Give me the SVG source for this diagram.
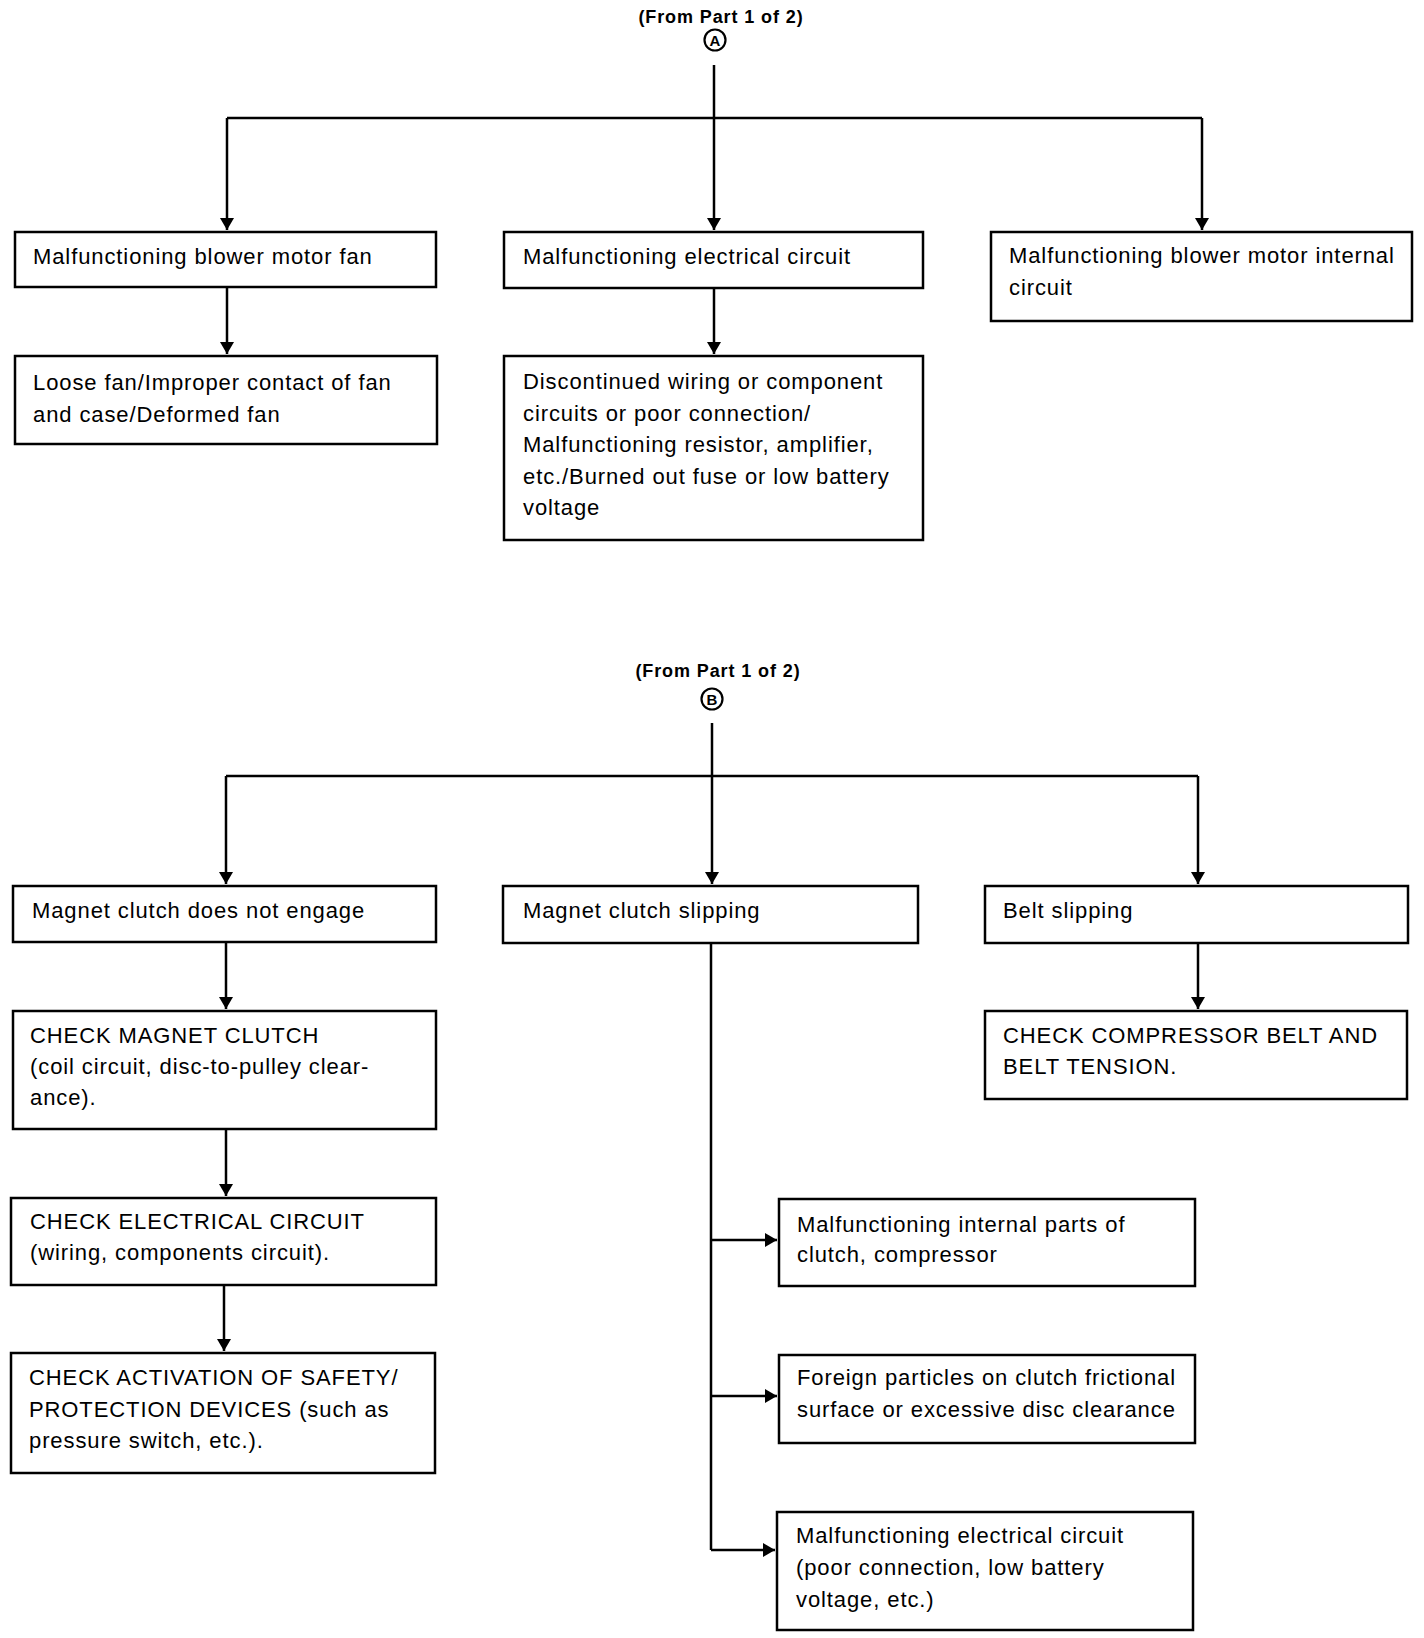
<svg xmlns="http://www.w3.org/2000/svg" width="1424" height="1638" viewBox="0 0 1424 1638">
<style>
.box{fill:#fff;stroke:#000;stroke-width:2.5}
.t{font-family:"Liberation Sans",Arial,sans-serif;font-size:22px;letter-spacing:0.9px;fill:#000}
.h{font-family:"Liberation Sans",Arial,sans-serif;font-size:18px;letter-spacing:0.9px;font-weight:bold;fill:#000}
.c{font-family:"Liberation Sans",Arial,sans-serif;font-size:15px;font-weight:bold;fill:#000}
.ln{fill:none;stroke:#000;stroke-width:2.5}
.ring{fill:none;stroke:#000;stroke-width:2.2}
</style>
<defs>
<marker id="ah" markerWidth="12" markerHeight="14" refX="12" refY="7" orient="auto" markerUnits="userSpaceOnUse" viewBox="0 0 12 14">
<path d="M0,0 L12,7 L0,14 Z" fill="#000"/>
</marker>
</defs>
<rect width="1424" height="1638" fill="#fff"/>

<g id="refA">
<text class="h" x="721" y="23" text-anchor="middle">(From Part 1 of 2)</text>
<circle class="ring" cx="715" cy="40" r="10.5"/>
<text class="c" x="715" y="45.5" text-anchor="middle">A</text>
</g>
<g id="refB">
<text class="h" x="718" y="677" text-anchor="middle">(From Part 1 of 2)</text>
<circle class="ring" cx="712" cy="699" r="10.5"/>
<text class="c" x="712" y="704.5" text-anchor="middle">B</text>
</g>

<g id="connectors">
<path class="ln" d="M714,65 V230" marker-end="url(#ah)"/>
<path class="ln" d="M227,118 H1202"/>
<path class="ln" d="M227,118 V230" marker-end="url(#ah)"/>
<path class="ln" d="M1202,118 V230" marker-end="url(#ah)"/>
<path class="ln" d="M227,287 V354" marker-end="url(#ah)"/>
<path class="ln" d="M714,288 V354" marker-end="url(#ah)"/>

<path class="ln" d="M712,723 V884" marker-end="url(#ah)"/>
<path class="ln" d="M226,776 H1198"/>
<path class="ln" d="M226,776 V884" marker-end="url(#ah)"/>
<path class="ln" d="M1198,776 V884" marker-end="url(#ah)"/>
<path class="ln" d="M226,942 V1009" marker-end="url(#ah)"/>
<path class="ln" d="M226,1129 V1196" marker-end="url(#ah)"/>
<path class="ln" d="M224,1285 V1351" marker-end="url(#ah)"/>
<path class="ln" d="M1198,943 V1009" marker-end="url(#ah)"/>
<path class="ln" d="M711,943 V1550"/>
<path class="ln" d="M711,1240 H777" marker-end="url(#ah)"/>
<path class="ln" d="M711,1396 H777" marker-end="url(#ah)"/>
<path class="ln" d="M711,1550 H775" marker-end="url(#ah)"/>
</g>

<g id="n1">
<rect class="box" x="15" y="232" width="421" height="55"/>
<text class="t" x="33" y="264">Malfunctioning blower motor fan</text>
</g>
<g id="n2">
<rect class="box" x="504" y="232" width="419" height="56"/>
<text class="t" x="523" y="264">Malfunctioning electrical circuit</text>
</g>
<g id="n3">
<rect class="box" x="991" y="232" width="421" height="89"/>
<text class="t" x="1009" y="263">Malfunctioning blower motor internal</text>
<text class="t" x="1009" y="295">circuit</text>
</g>
<g id="n4">
<rect class="box" x="15" y="356" width="422" height="88"/>
<text class="t" x="33" y="390">Loose fan/Improper contact of fan</text>
<text class="t" x="33" y="422">and case/Deformed fan</text>
</g>
<g id="n5">
<rect class="box" x="504" y="356" width="419" height="184"/>
<text class="t" x="523" y="389">Discontinued wiring or component</text>
<text class="t" x="523" y="421">circuits or poor connection/</text>
<text class="t" x="523" y="452">Malfunctioning resistor, amplifier,</text>
<text class="t" x="523" y="484">etc./Burned out fuse or low battery</text>
<text class="t" x="523" y="515">voltage</text>
</g>

<g id="m1">
<rect class="box" x="13" y="886" width="423" height="56"/>
<text class="t" x="32" y="918">Magnet clutch does not engage</text>
</g>
<g id="m2">
<rect class="box" x="503" y="886" width="415" height="57"/>
<text class="t" x="523" y="918">Magnet clutch slipping</text>
</g>
<g id="m3">
<rect class="box" x="985" y="886" width="423" height="57"/>
<text class="t" x="1003" y="918">Belt slipping</text>
</g>
<g id="m4">
<rect class="box" x="13" y="1011" width="423" height="118"/>
<text class="t" x="30" y="1043">CHECK MAGNET CLUTCH</text>
<text class="t" x="30" y="1074">(coil circuit, disc-to-pulley clear-</text>
<text class="t" x="30" y="1105">ance).</text>
</g>
<g id="m5">
<rect class="box" x="985" y="1011" width="422" height="88"/>
<text class="t" x="1003" y="1043">CHECK COMPRESSOR BELT AND</text>
<text class="t" x="1003" y="1074">BELT TENSION.</text>
</g>
<g id="m6">
<rect class="box" x="11" y="1198" width="425" height="87"/>
<text class="t" x="30" y="1229">CHECK ELECTRICAL CIRCUIT</text>
<text class="t" x="30" y="1260">(wiring, components circuit).</text>
</g>
<g id="m7">
<rect class="box" x="11" y="1353" width="424" height="120"/>
<text class="t" x="29" y="1385">CHECK ACTIVATION OF SAFETY/</text>
<text class="t" x="29" y="1417">PROTECTION DEVICES (such as</text>
<text class="t" x="29" y="1448">pressure switch, etc.).</text>
</g>
<g id="m8">
<rect class="box" x="779" y="1199" width="416" height="87"/>
<text class="t" x="797" y="1232">Malfunctioning internal parts of</text>
<text class="t" x="797" y="1262">clutch, compressor</text>
</g>
<g id="m9">
<rect class="box" x="779" y="1355" width="416" height="88"/>
<text class="t" x="797" y="1385">Foreign particles on clutch frictional</text>
<text class="t" x="797" y="1417">surface or excessive disc clearance</text>
</g>
<g id="m10">
<rect class="box" x="777" y="1512" width="416" height="118"/>
<text class="t" x="796" y="1543">Malfunctioning electrical circuit</text>
<text class="t" x="796" y="1575">(poor connection, low battery</text>
<text class="t" x="796" y="1607">voltage, etc.)</text>
</g>
</svg>
